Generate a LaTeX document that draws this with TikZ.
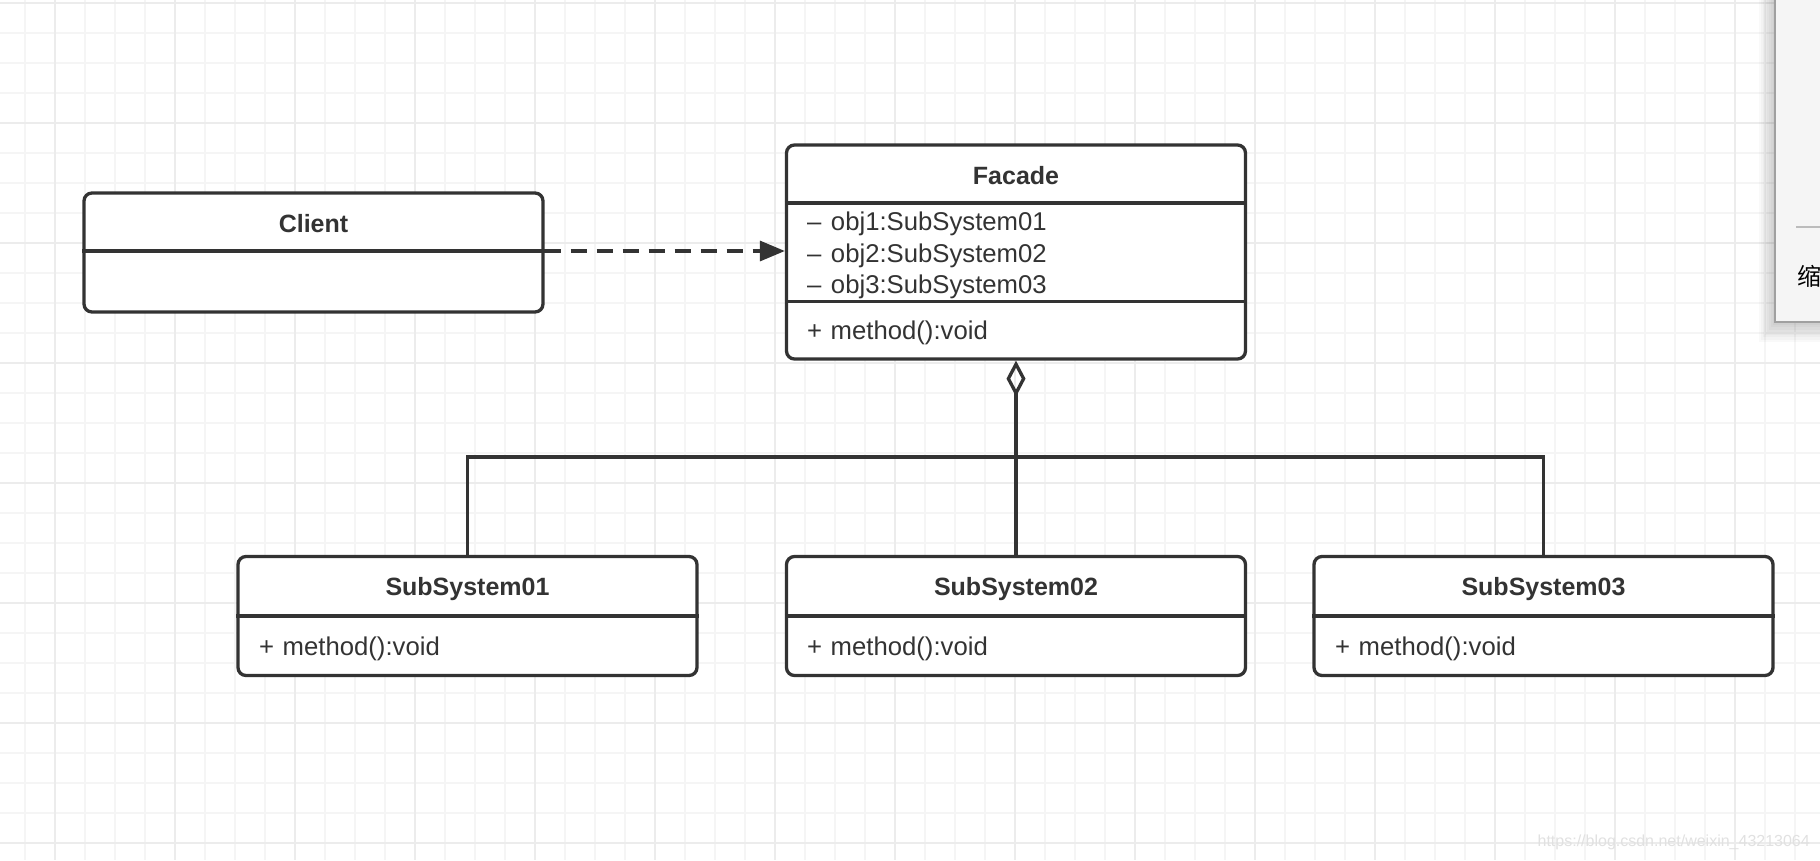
\documentclass[tikz,border=0pt]{standalone}
\usepackage{fontspec}
\setmainfont{Liberation Sans}
\newfontfamily\cjkfont{Noto Sans CJK SC}
\usetikzlibrary{arrows.meta}
\definecolor{umlstroke}{RGB}{51, 51, 51}
\definecolor{gridminor}{RGB}{245, 245, 245}
\definecolor{gridmajor}{RGB}{236, 236, 236}
\definecolor{panelfill}{RGB}{245, 245, 245}
\definecolor{panelline}{RGB}{160, 160, 160}
\definecolor{markgray}{RGB}{225, 225, 225}

\tikzset{
  classbox/.style={draw=umlstroke, line width=3.3pt, rounded corners=8pt, fill=white,
                   minimum width=459pt, minimum height=119pt, inner sep=0pt},
  classline/.style={draw=umlstroke, line width=3.3pt},
  classname/.style={font=\fontsize{25}{30}\selectfont\bfseries, text=umlstroke, inner sep=0pt, anchor=base},
  member/.style={font=\fontsize{25.7}{30}\selectfont, text=umlstroke, inner sep=0pt, anchor=base west},
}

\begin{document}
\begin{tikzpicture}[x=1pt, y=-1pt]
            \useasboundingbox (0,0) rectangle (1820,860);
            \fill[white] (0,0) rectangle (1820,860);
            \foreach \gx in {25,55,...,1820} \draw[gridminor, line width=1.4pt] (\gx,0) -- (\gx,860);
            \foreach \gy in {3,33,...,860}   \draw[gridminor, line width=1.4pt] (0,\gy) -- (1820,\gy);
            \foreach \gx in {55,175,...,1820} \draw[gridmajor, line width=1.8pt] (\gx,0) -- (\gx,860);
            \foreach \gy in {3,123,...,860}   \draw[gridmajor, line width=1.8pt] (0,\gy) -- (1820,\gy);

            \node[classbox]                      (client) at ( 313.5, 252.5) {};
            \node[classbox, minimum height=214pt] (facade) at (1016.0, 252.0) {};
            \node[classbox]                      (sub1)   at ( 467.5, 616.0) {};
            \node[classbox]                      (sub2)   at (1016.0, 616.0) {};
            \node[classbox]                      (sub3)   at (1543.5, 616.0) {};

            \draw[classline] (client.west |- 0,251)   -- (client.east |- 0,251);
            \draw[classline] (facade.west |- 0,203)   -- (facade.east |- 0,203);
            \draw[classline] (facade.west |- 0,301.5) -- (facade.east |- 0,301.5);
            \draw[classline] (sub1.west |- 0,616)     -- (sub1.east |- 0,616);
            \draw[classline] (sub2.west |- 0,616)     -- (sub2.east |- 0,616);
            \draw[classline] (sub3.west |- 0,616)     -- (sub3.east |- 0,616);

            \node[classname] (clientname) at ( 313.5, 232) {Client};
            \node[classname] (facadename) at (1016.0, 184) {Facade};
            \node[member]    (attr1)      at ( 807.0, 230) {–\hspace{9.5pt}obj1:SubSystem01};
            \node[member]    (attr2)      at ( 807.0, 262) {–\hspace{9.5pt}obj2:SubSystem02};
            \node[member]    (attr3)      at ( 807.0, 293) {–\hspace{9.5pt}obj3:SubSystem03};
            \node[member]    (facadeop)   at ( 807.0, 339) {+\hspace{8.5pt}method():void};
            \node[classname] (sub1name)   at ( 467.5, 595) {SubSystem01};
            \node[classname] (sub2name)   at (1016.0, 595) {SubSystem02};
            \node[classname] (sub3name)   at (1543.5, 595) {SubSystem03};
            \node[member]    (sub1op)     at ( 259.0, 655) {+\hspace{8.5pt}method():void};
            \node[member]    (sub2op)     at ( 807.0, 655) {+\hspace{8.5pt}method():void};
            \node[member]    (sub3op)     at (1335.0, 655) {+\hspace{8.5pt}method():void};

            \draw[classline, dash pattern=on 16pt off 10pt, -{Triangle[length=25pt, width=20pt]}]
                  (client.east |- 0,251) -- (facade.west |- 0,251);
            \draw[classline, {Diamond[open, length=36pt, width=19pt]}-] (facade.south) -- (sub2.north);
            \coordinate (bus) at (0,457);
            \draw[classline] (sub1.north) -- (sub1.north |- bus) -- (sub3.north |- bus) -- (sub3.north);

            \foreach \s in {1,...,8} \fill[black, opacity=0.025] (1775-\s*2, -5) rectangle (1830, 322+\s*2.5);
            \filldraw[fill=panelfill, draw=panelline, line width=1.5pt] (1775,-5) rectangle (1830,322);
            \draw[panelline!70, line width=1.5pt] (1796,227) -- (1830,227);
            \node[font=\cjkfont\fontsize{24}{24}\selectfont, anchor=west, inner sep=0pt] (zoomlabel) at (1797,276) {缩};
            \node[font=\fontsize{16}{16}\selectfont, text=markgray, anchor=east, inner sep=0pt] (watermark) at (1810,842) {https://blog.csdn.net/weixin\_43213064};
        \end{tikzpicture}
\end{document}
